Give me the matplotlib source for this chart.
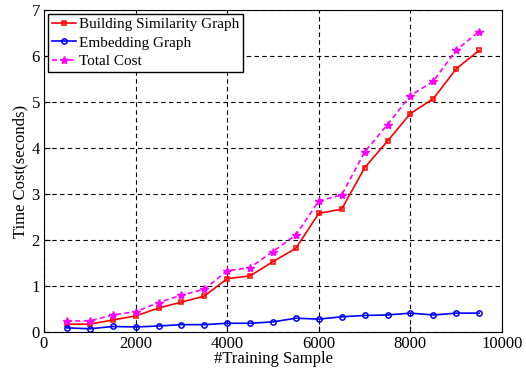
import numpy as np
import matplotlib.pyplot as plt

plt.rcParams['font.family'] = ['Liberation Serif', 'DejaVu Serif']

samples = [500, 1000, 1500, 2000, 2500, 3000, 3500, 4000, 4500, 5000,
           5500, 6000, 6500, 7000, 7500, 8000, 8500, 9000, 9500]
building = [0.17, 0.17, 0.26, 0.35, 0.52, 0.65, 0.78, 1.16, 1.22, 1.53,
            1.82, 2.58, 2.67, 3.57, 4.15, 4.75, 5.07, 5.72, 6.12]
embedding = [0.09, 0.07, 0.12, 0.11, 0.13, 0.16, 0.16, 0.19, 0.19, 0.22,
             0.30, 0.28, 0.33, 0.36, 0.37, 0.41, 0.37, 0.41, 0.41]
total = [0.24, 0.24, 0.37, 0.44, 0.64, 0.80, 0.93, 1.33, 1.40, 1.75,
         2.11, 2.85, 2.98, 3.91, 4.51, 5.14, 5.45, 6.13, 6.53]

fig = plt.figure(figsize=(5.26, 3.68), dpi=100)
ax = fig.add_axes([44/526, 36/368, 458/526, 322/368])

ax.plot(samples, building, color='red', marker='s', markersize=3.5,
        markerfacecolor='none', markeredgewidth=1.1, linewidth=1.2,
        label='Building Similarity Graph')
ax.plot(samples, embedding, color='blue', marker='o', markersize=3.8,
        markerfacecolor='none', markeredgewidth=1.1, linewidth=1.2,
        label='Embedding Graph')
ax.plot(samples, total, color='magenta', marker='*', markersize=6,
        linestyle=(0, (3, 2)), linewidth=1.2, label='Total Cost')

ax.set_xlim(0, 10000)
ax.set_ylim(0, 7)
ax.set_xticks(np.arange(0, 10001, 2000))
ax.set_yticks(np.arange(0, 8, 1))
ax.grid(True, color='black', linestyle=(0, (4, 3)), linewidth=0.8)
ax.tick_params(direction='in', labelsize=12, length=4, pad=3)
ax.set_xlabel('#Training Sample', fontsize=12, labelpad=-1)
ax.set_ylabel('Time Cost(seconds)', fontsize=12, labelpad=2)

leg = ax.legend(loc='upper left', fontsize=11, fancybox=False,
                edgecolor='black', framealpha=1, handlelength=1.6,
                handletextpad=0.2, borderaxespad=0.25, labelspacing=0.3,
                borderpad=0.25)
leg.get_frame().set_linewidth(1.0)

plt.savefig('out.png', dpi=100)
